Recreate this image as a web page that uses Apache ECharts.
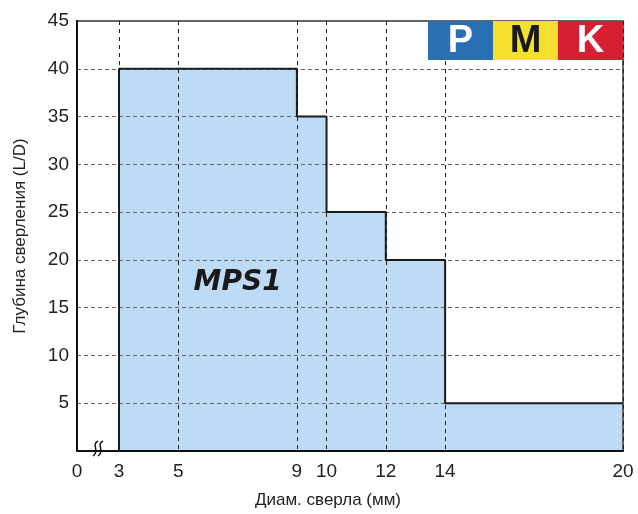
<!DOCTYPE html>
<html>
<head>
<meta charset="utf-8">
<script src="https://cdn.jsdelivr.net/npm/echarts@6/dist/echarts.min.js"></script>
<style>html,body{margin:0;padding:0;background:#fff;}#c{width:638px;height:514px;}</style>
</head>
<body>
<div id="c"></div>
<script>
// Data
const diameters = [3, 3, 9, 10, 12, 14, 20];      // drill diameter (mm), step starts
const depths    = [0, 40, 35, 25, 20, 5, 5];      // depth L/D
const xTickValues = [3, 5, 9, 10, 12, 14, 20];
const xZeroLabel = '0';
const yTicks = [5, 10, 15, 20, 25, 30, 35, 40, 45];
const materials = ['P', 'M', 'K'];
const seriesLabel = 'MPS1';
const labelAt = [7, 17.6];

const xMin = 1.583; // visual position of broken "0"
const stepData = diameters.map((d, i) => [d, depths[i]]);
const font = 'Liberation Sans, Arial, sans-serif';

const chart = echarts.init(document.getElementById('c'), null, {renderer: 'canvas'});
const matColors = [['#2870B2', '#fff'], ['#F5E12D', '#1a1a1a'], ['#D61F31', '#fff']];

chart.setOption({
  animation: false,
  backgroundColor: '#fff',
  grid: {left: 77, right: 15, top: 21, bottom: 63, show: true, borderColor: '#333', borderWidth: 1.5, backgroundColor: 'transparent'},
  xAxis: {
    type: 'value', min: xMin, max: 20,
    name: 'Диам. сверла (мм)', nameLocation: 'middle', nameGap: 41,
    nameTextStyle: {fontFamily: font, fontSize: 17, color: '#222', padding: [0, 44, 0, 0]},
    axisLine: {show: true, lineStyle: {color: '#111', width: 2}},
    axisTick: {show: false, customValues: [xMin].concat(xTickValues)},
    axisLabel: {
      customValues: [xMin].concat(xTickValues), margin: 11,
      fontFamily: font, fontSize: 19, color: '#222',
      formatter: v => (Math.abs(v - xMin) < 1e-6 ? xZeroLabel : String(v))
    },
    splitLine: {show: true, lineStyle: {color: '#222', type: [4, 4], width: 1}}
  },
  yAxis: {
    type: 'value', min: 0, max: 45, interval: 5,
    name: 'Глубина сверления (L/D)', nameLocation: 'middle', nameGap: 48, nameRotate: 90,
    nameTextStyle: {fontFamily: font, fontSize: 17, color: '#222'},
    axisLine: {show: true, lineStyle: {color: '#111', width: 2}},
    axisTick: {show: false},
    axisLabel: {
      margin: 8, fontFamily: font, fontSize: 19, color: '#222',
      formatter: v => (yTicks.indexOf(v) >= 0 ? String(v) : '')
    },
    splitLine: {show: true, lineStyle: {color: '#666', type: [4, 3], width: 1}}
  },
  series: [
    {
      type: 'line', step: 'end', data: stepData, symbol: 'none', z: -1,
      lineStyle: {width: 0, opacity: 0},
      areaStyle: {color: '#BDDBF4', opacity: 1, origin: 'start'},
      silent: true
    },
    {
      type: 'line', step: 'end', data: stepData, symbol: 'none', z: 3,
      lineStyle: {color: '#1a1a1a', width: 2},
      markPoint: {
        symbol: 'rect', symbolSize: 1, itemStyle: {color: 'transparent'},
        label: {show: true, position: 'inside', formatter: seriesLabel,
          fontFamily: 'DejaVu Sans, sans-serif', fontWeight: 'bold', fontStyle: 'italic', fontSize: 28, color: '#1a1a1a'},
        data: [{coord: labelAt}]
      }
    }
  ]
});

// axis break symbol between "0" and "3", plus material boxes
const p = chart.convertToPixel({gridIndex: 0}, [(xMin + 3) / 2, 0]);
const cx = p[0], cy = p[1] - 2;
const wave = dx => ({
  type: 'bezierCurve', z: 100,
  shape: {x1: cx + dx + 2.5, y1: cy - 8, cpx1: cx + dx - 5, cpy1: cy - 4, cpx2: cx + dx + 5, cpy2: cy + 1, x2: cx + dx - 2.5, y2: cy + 7},
  style: {fill: 'none', stroke: '#111', lineWidth: 1.5}
});
chart.setOption({
  graphic: [{
    type: 'group', right: 15, top: 21,
    children: materials.map((m, i) => ({
      type: 'group', x: i * 65, y: 0,
      children: [
        {type: 'rect', shape: {x: 0, y: 0, width: 65, height: 39}, style: {fill: matColors[i][0]}},
        {type: 'text', x: 32.5, y: 21, style: {text: m, fill: matColors[i][1], font: 'bold 38px ' + font, align: 'center', verticalAlign: 'middle'}}
      ]
    }))
  }, wave(-2.5), wave(2.5)]
});
</script>
</body>
</html>
